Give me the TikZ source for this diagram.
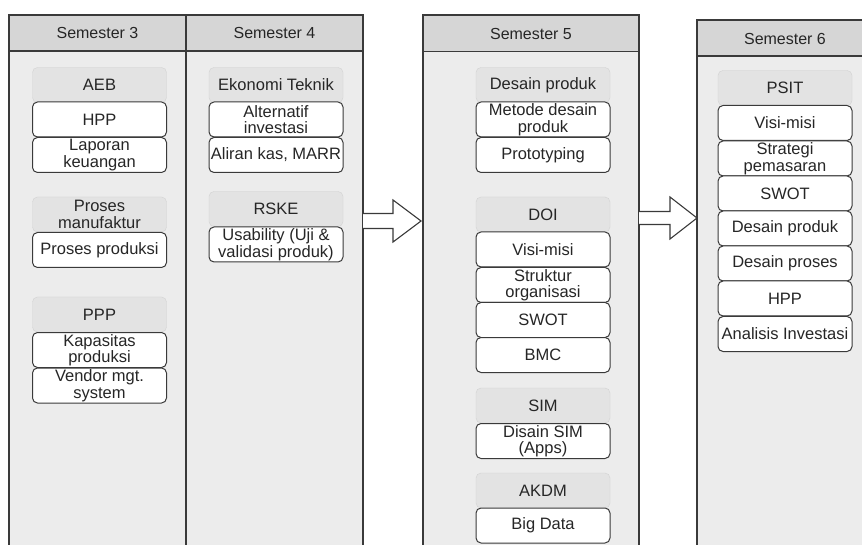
\documentclass[tikz,border=0pt]{standalone}
\usepackage{fontspec}
\setmainfont{Liberation Sans}
\definecolor{colbg}{HTML}{ECECEC}
\definecolor{headbg}{HTML}{D6D6D6}
\definecolor{topicbg}{HTML}{E3E3E3}
\definecolor{linedark}{HTML}{3A3A3A}
\tikzset{
    col/.style={draw=linedark, fill=colbg, line width=1.1pt},
    semhead/.style={draw=linedark, fill=headbg, line width=1.1pt, minimum height=36pt, inner sep=0pt, font=\fontsize{16}{16}\selectfont, text=black!85},
    topic/.style={rectangle, rounded corners=5pt, draw=gray!35, fill=topicbg, minimum width=134pt, minimum height=35pt, inner sep=0pt, align=center, font=\fontsize{16.5}{16.5}\selectfont, text=black!85},
    item/.style={topic, draw=linedark, fill=white, line width=1pt},
    blockarrow/.style={draw=linedark, fill=white, line width=1.1pt, line join=miter}
}
\begin{document}
\begin{tikzpicture}[x=1pt, y=-1pt]
    \useasboundingbox (0,0) rectangle (862,545);
    \clip (0,0) rectangle (862,545);

    % kolom semester
    \draw[col] (9,15) rectangle (186,560);
    \draw[col] (186,15) rectangle (363,560);
    \draw[col] (423,15) rectangle (639,560);
    \draw[col] (697,20) rectangle (880,560);

    \node[semhead, minimum width=177pt] (s3) at (97.5,33) {Semester 3};
    \node[semhead, minimum width=177pt] (s4) at (274.5,33) {Semester 4};
    \node[semhead, minimum width=216pt] (s5) at (531,33.5) {Semester 5};
    \node[semhead, minimum width=183pt, anchor=west] (s6) at (697,38) {};
    \node[font=\fontsize{16}{16}\selectfont, text=black!85] (s6t) at (785,39) {Semester 6};

    % Semester 3
    \node[topic] (aeb) at (99.5,85) {AEB};
    \node[item] (hpp3) at (99.5,119.5) {HPP};
    \node[item] (lapkeu) at (99.5,155) {Laporan\\keuangan};
    \node[topic] (promanu) at (99.5,214.5) {Proses\\manufaktur};
    \node[item] (proprod) at (99.5,250) {Proses produksi};
    \node[topic] (ppp) at (99.5,314.5) {PPP};
    \node[item] (kapprod) at (99.5,350) {Kapasitas\\produksi};
    \node[item] (vendor) at (99.5,385.5) {Vendor mgt.\\system};

    % Semester 4
    \node[topic] (ekotek) at (276,85) {Ekonomi Teknik};
    \node[item] (altinv) at (276,119.5) {Alternatif\\investasi};
    \node[item] (aliran) at (276,155) {Aliran kas, MARR};
    \node[topic] (rske) at (276,209) {RSKE};
    \node[item] (usab) at (276,244.5) {Usability (Uji \&\\validasi produk)};

    % Semester 5
    \node[topic] (desprod5) at (543,85) {Desain produk};
    \node[item] (metode) at (543,119.5) {Metode desain\\produk};
    \node[item] (proto) at (543,155) {Prototyping};
    \node[topic] (doi) at (543,214.5) {DOI};
    \node[item] (visi5) at (543,249.5) {Visi-misi};
    \node[item] (struktur) at (543,285) {Struktur\\organisasi};
    \node[item] (swot5) at (543,320) {SWOT};
    \node[item] (bmc) at (543,355) {BMC};
    \node[topic] (sim) at (543,405.5) {SIM};
    \node[item] (dsim) at (543,441) {Disain SIM\\(Apps)};
    \node[topic] (akdm) at (543,490.5) {AKDM};
    \node[item] (bigdata) at (543,525.5) {Big Data};

    % Semester 6
    \node[topic] (psit) at (785,88) {PSIT};
    \node[item] (visi6) at (785,123) {Visi-misi};
    \node[item] (strat) at (785,158.5) {Strategi\\pemasaran};
    \node[item] (swot6) at (785,193.5) {SWOT};
    \node[item] (desprod6) at (785,228.5) {Desain produk};
    \node[item] (desproc) at (785,263.5) {Desain proses};
    \node[item] (hpp6) at (785,298.5) {HPP};
    \node[item] (analinv) at (785,334) {Analisis Investasi};

    % panah antar semester
    \draw[blockarrow] (363,213.5) -- (393,213.5) -- (393,200) -- (421,221)
        -- (393,242) -- (393,228.5) -- (363,228.5);
    \draw[blockarrow] (639,211.5) -- (670,211.5) -- (670,197) -- (697,218)
        -- (670,239) -- (670,224.5) -- (639,224.5);
\end{tikzpicture}
\end{document}
